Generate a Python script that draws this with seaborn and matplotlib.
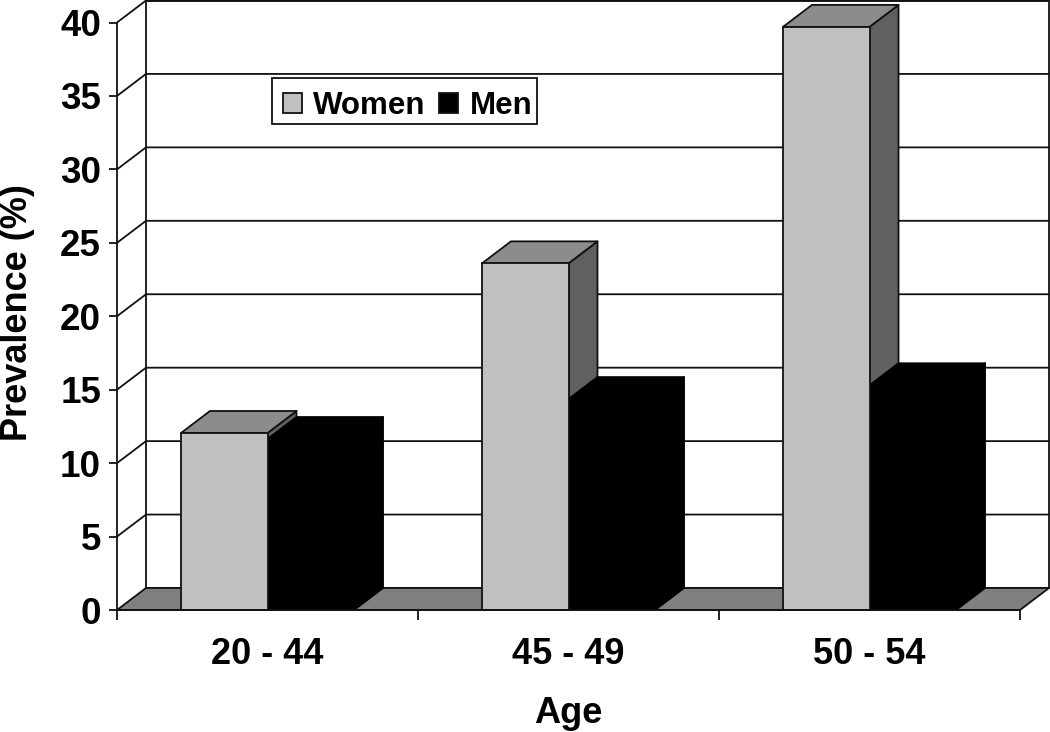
import numpy as np
import pandas as pd
import matplotlib.pyplot as plt
from matplotlib.patches import Polygon
import seaborn as sns

ages = ['20 - 44', '45 - 49', '50 - 54']
women = [12.05, 23.6, 39.7]
men = [11.64, 14.36, 15.3]
y_ticks = [0, 5, 10, 15, 20, 25, 30, 35, 40]

FIG_W, FIG_H = 1050, 732
LEFT, RIGHT, BOTTOM, TOP = 117, 1020, 610, 22.5
DEPTH_X, DEPTH_Y = 29, 22  # pixels of fake 3D depth
LINE = '#111111'
LW = 1.3

sns.set_style("white")
plt.rcParams['font.family'] = ['Liberation Sans', 'DejaVu Sans']
plt.rcParams['font.weight'] = 'bold'
plt.rcParams['text.color'] = 'black'
plt.rcParams['axes.labelcolor'] = 'black'
plt.rcParams['xtick.color'] = 'black'
plt.rcParams['ytick.color'] = 'black'

df = pd.DataFrame({
    'Age': ages * 2,
    'Prevalence': women + men,
    'Sex': ['Women'] * 3 + ['Men'] * 3,
})

fig = plt.figure(figsize=(FIG_W / 100, FIG_H / 100), dpi=100)
ax = fig.add_axes([LEFT / FIG_W, 1 - BOTTOM / FIG_H, (RIGHT - LEFT) / FIG_W, (BOTTOM - TOP) / FIG_H])
ax.patch.set_alpha(0)

sns.barplot(data=df, x='Age', y='Prevalence', hue='Sex', hue_order=['Women', 'Men'],
            palette=['#c0c0c0', '#000000'], width=0.575, gap=0, ax=ax,
            edgecolor=LINE, linewidth=LW)

ax.set_xlim(-0.5, 2.5)
ax.set_ylim(0, 40)
dx = DEPTH_X * 3 / (RIGHT - LEFT)
dy = DEPTH_Y * 40 / (BOTTOM - TOP)
x0, x1 = ax.get_xlim()
y_top = y_ticks[-1]


def poly(points, color, z, edge=LINE, lw=LW):
    ax.add_patch(Polygon(points, closed=True, facecolor=color, edgecolor=edge,
                         linewidth=lw, zorder=z, clip_on=False, joinstyle='round'))


# back wall, floor and the grid lines on the wall
poly([(x0 + dx, dy), (x1 + dx, dy), (x1 + dx, y_top + dy), (x0 + dx, y_top + dy)], 'white', 1)
poly([(x0, 0), (x1, 0), (x1 + dx, dy), (x0 + dx, dy)], '#808080', 1.1)
for t in y_ticks[1:]:
    ax.plot([x0, x0 + dx, x1 + dx], [t, t + dy, t + dy], color=LINE, lw=LW, zorder=1.2, clip_on=False)

# bar sides and tops
for bars, side, roof, edge, z in [(ax.containers[0], '#606060', '#8c8c8c', LINE, 2),
                                  (ax.containers[1], '#000000', '#000000', '#000000', 2.2)]:
    for bar in bars:
        l, r, h = bar.get_x(), bar.get_x() + bar.get_width(), bar.get_height()
        poly([(r, 0), (r + dx, dy), (r + dx, h + dy), (r, h)], side, z, edge)
        poly([(l, h), (r, h), (r + dx, h + dy), (l + dx, h + dy)], roof, z, edge)
        bar.set_edgecolor(edge)
        bar.set_zorder(z + 0.1 if z == 2.2 else 2.4)

for name in ['top', 'right']:
    ax.spines[name].set_visible(False)
for name in ['left', 'bottom']:
    ax.spines[name].set_visible(True)
    ax.spines[name].set_color(LINE)
    ax.spines[name].set_linewidth(LW)
    ax.spines[name].set_zorder(3)

ax.set_yticks(y_ticks)
ax.tick_params(axis='y', left=True, length=5.5, width=LW, color=LINE, labelsize=26.5, pad=6)
ax.set_xticks(range(len(ages)), ages)
ax.set_xticks(np.arange(x0, x1 + 0.5), minor=True)
ax.tick_params(axis='x', which='major', bottom=False, labelsize=26, pad=16)
ax.tick_params(axis='x', which='minor', bottom=True, length=7.5, width=LW, color=LINE)

ax.set_xlabel('Age', fontsize=26, fontweight='bold')
ax.xaxis.set_label_coords(0.5, -(696 - BOTTOM) / (BOTTOM - TOP))
ax.set_ylabel('Prevalence (%)', fontsize=26, fontweight='bold')
ax.yaxis.set_label_coords((35 - LEFT) / (RIGHT - LEFT), (BOTTOM - 313) / (BOTTOM - TOP))

leg = ax.legend(loc='upper left', bbox_to_anchor=((272 - LEFT) / (RIGHT - LEFT), (BOTTOM - 78) / (BOTTOM - TOP)),
                ncol=2, fontsize=22.5, frameon=True, fancybox=False, framealpha=1, edgecolor=LINE,
                handlelength=0.6, handleheight=0.6, handletextpad=0.365, columnspacing=0.44,
                borderaxespad=0, borderpad=0.25, title=None)
leg.get_frame().set_linewidth(LW)
leg.set_zorder(5)
# nudge the legend contents inside its frame
for t in leg.get_texts():
    t.set_position((3, -5))
for h in leg.legend_handles:
    h.set_x(h.get_x() + 3 * 0.72)
    h.set_y(h.get_y() - 5 * 0.72)

fig.savefig('out.png', dpi=100)
plt.close(fig)
